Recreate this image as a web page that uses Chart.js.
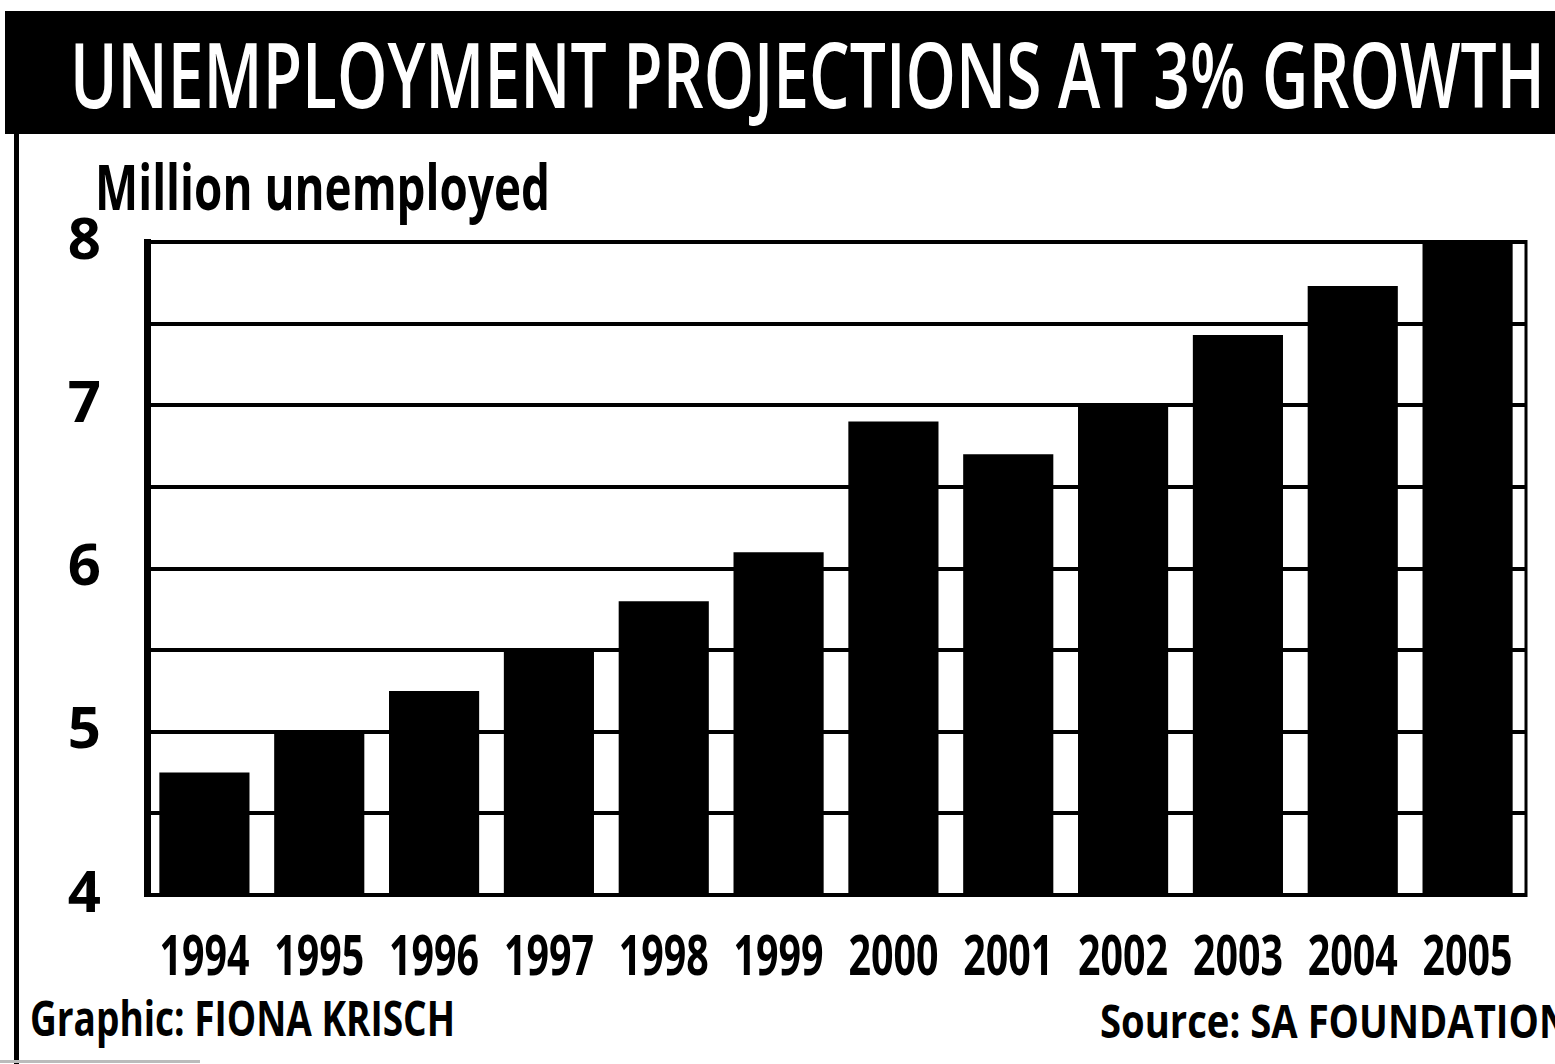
<!DOCTYPE html>
<html>
<head>
<meta charset="utf-8">
<script src="https://cdn.jsdelivr.net/npm/chart.js@4.4.1/dist/chart.umd.min.js"></script>
<style>
  html, body { margin: 0; padding: 0; background: #fff; }
  #wrap { position: relative; width: 1555px; height: 1064px; overflow: hidden; background: #fff; }
  .cond { font-family: "Open Sans", "Noto Sans", sans-serif; font-weight: bold; }
  #titleBand { position: absolute; left: 5px; top: 11px; width: 1560px; height: 123px; background: #000; }
  #title { position: absolute; left: 70px; top: 18px; color: #fff; font-size: 90px; line-height: 110px; white-space: nowrap; transform-origin: 0 0; font-weight: 600; }
  #leftBorder { position: absolute; left: 14px; top: 130px; width: 5px; height: 934px; background: #000; }
  #ylabel { position: absolute; left: 95px; top: 146px; font-size: 62px; line-height: 80px; color: #000; white-space: nowrap; transform-origin: 0 0; }
  #credit { position: absolute; left: 30px; top: 986px; font-size: 48px; line-height: 64px; color: #000; white-space: nowrap; transform-origin: 0 0; }
  #source { position: absolute; left: 1100px; top: 988px; font-size: 46px; line-height: 64px; color: #000; white-space: nowrap; transform-origin: 0 0; }
  #bottomLine { position: absolute; left: 0; top: 1060px; width: 200px; height: 3px; background: #bbb; }
  canvas#c { position: absolute; left: 0; top: 0; }
</style>
</head>
<body>
<div id="wrap">
  <div id="titleBand"></div>
  <div id="title" class="cond">UNEMPLOYMENT PROJECTIONS AT 3% GROWTH</div>
  <div id="leftBorder"></div>
  <div id="ylabel" class="cond">Million unemployed</div>
  <div id="credit" class="cond">Graphic: FIONA KRISCH</div>
  <div id="source" class="cond">Source: SA FOUNDATION</div>
  <div id="bottomLine"></div>
  <canvas id="c" width="1555" height="1064"></canvas>
</div>
<script>
// ---- data ----
const years = ["1994","1995","1996","1997","1998","1999","2000","2001","2002","2003","2004","2005"];
const unemployedMillions = [4.75, 5.0, 5.25, 5.5, 5.8, 6.1, 6.9, 6.7, 7.0, 7.43, 7.73, 8.0];
const yTickLabels = ["4","5","6","7","8"];

// fit text widths (narrow, condensed look of the original)
function fitWidth(id, target) {
  const el = document.getElementById(id);
  const w = el.getBoundingClientRect().width;
  el.style.transform = 'scaleX(' + (target / w) + ')';
}
fitWidth('title', 1475);
fitWidth('ylabel', 455);
fitWidth('credit', 425);
fitWidth('source', 470);

const FONT = '"Open Sans", "Noto Sans", sans-serif';

// condensed x tick labels, positioned by the category scale
const condensedXLabels = {
  id: 'condensedXLabels',
  afterDraw(chart) {
    const xs = chart.scales.x, ctx = chart.ctx;
    ctx.save();
    ctx.fillStyle = '#000';
    ctx.font = 'bold 56px ' + FONT;
    ctx.textAlign = 'center';
    ctx.textBaseline = 'alphabetic';
    const y = chart.chartArea.bottom + 80;
    xs.ticks.forEach((t, i) => {
      const label = xs.getLabelForValue(t.value);
      const x = xs.getPixelForTick(i);
      const w = ctx.measureText(label).width;
      const sx = 90 / w;
      ctx.save();
      ctx.translate(x, y);
      ctx.scale(sx, 1);
      ctx.fillText(label, 0, 0);
      ctx.restore();
    });
    ctx.restore();
  }
};

const rightBorder = {
  id: 'rightBorder',
  afterDraw(chart) {
    const a = chart.chartArea, ctx = chart.ctx;
    ctx.save();
    ctx.strokeStyle = '#000';
    ctx.lineWidth = 3;
    ctx.beginPath();
    ctx.moveTo(a.right + 1, a.top - 2);
    ctx.lineTo(a.right + 1, a.bottom + 2);
    ctx.stroke();
    ctx.restore();
  }
};

new Chart(document.getElementById('c'), {
  type: 'bar',
  data: {
    labels: years,
    datasets: [{
      data: unemployedMillions,
      backgroundColor: '#000',
      borderWidth: 0,
      barPercentage: 0.785,
      categoryPercentage: 1.0
    }]
  },
  options: {
    responsive: false,
    animation: false,
    devicePixelRatio: 1,
    layout: { padding: { top: 242, right: 30, left: 0, bottom: 79 } },
    plugins: { legend: { display: false }, tooltip: { enabled: false }, title: { display: false } },
    scales: {
      x: {
        grid: { display: false, drawTicks: false },
        border: { display: true, color: '#000', width: 4 },
        ticks: { display: false, autoSkip: false },
        afterFit(scale) { scale.height = 90; }
      },
      y: {
        min: 4, max: 8,
        grid: { color: '#000', lineWidth: 4, drawTicks: false },
        border: { display: true, color: '#000', width: 7 },
        ticks: {
          stepSize: 0.5,
          color: '#000',
          font: { family: FONT, size: 58, weight: 'bold' },
          padding: 46,
          callback(v) {
            const s = String(v);
            return yTickLabels.includes(s) ? s : '';
          }
        },
        afterFit(scale) { scale.width = 147; }
      }
    }
  },
  plugins: [condensedXLabels, rightBorder]
});
</script>
</body>
</html>
